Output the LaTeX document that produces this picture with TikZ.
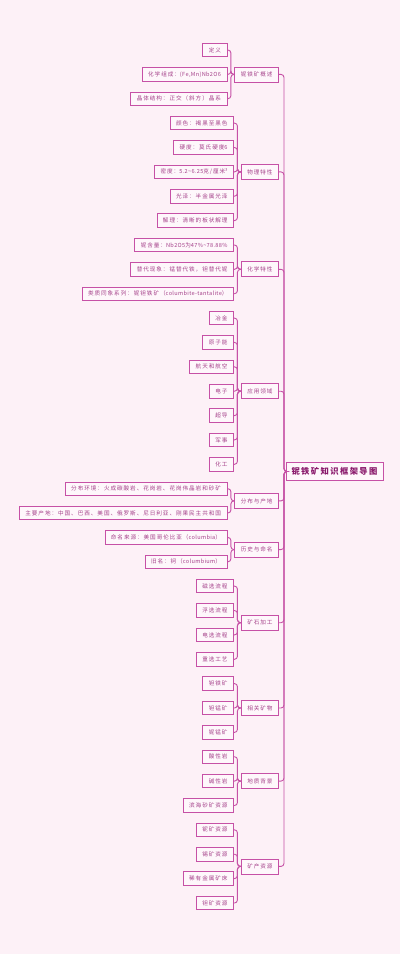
\documentclass[tikz,border=0pt]{standalone}
\usepackage{fontspec}
\setmainfont{Noto Sans CJK SC}[LetterSpace=17]
\newfontfamily\lat{Noto Sans CJK SC}[LetterSpace=6]
\usetikzlibrary{calc}
\definecolor{bg}{HTML}{FDF1F7}
\definecolor{bd}{HTML}{C651A6}
\definecolor{fl}{HTML}{FEF7FB}
\definecolor{tx}{HTML}{A5418A}
\definecolor{rt}{HTML}{8A1A6C}
\tikzset{
 l2/.style={draw=bd, fill=fl, line width=0.8pt, text=tx, font=\fontsize{5.6}{6}\selectfont, inner xsep=6pt, inner ysep=0pt, minimum height=13.5pt, anchor=east},
 l1/.style={l2, minimum height=15pt},
 rootbox/.style={draw=bd, fill=fl, line width=1pt, text=rt, font=\fontsize{8.3}{9}\selectfont\bfseries, minimum width=97pt, minimum height=18pt},
 conn/.style={draw=bd, line width=0.9pt, rounded corners=3pt}
}
\newcommand\mmkid[4]{\path let \p1=(#1.west) in node[l2] (#2) at (\x1-7pt,-#3pt) {#4}; \draw[conn] (#1.west) -- ++(-3.5pt,0) |- (#2.east);}
\begin{document}
\begin{tikzpicture}[x=1pt,y=1pt]
\fill[bg] (0,0) rectangle (400,-954);
\useasboundingbox (0,0) rectangle (400,-954);
\node[rootbox] (root) at (334.5,-471.5) {铌铁矿知识框架导图};
\coordinate (tr) at (284,-471.5);
\node[l1] (A) at (279,-74.4) {铌铁矿概述};
\node[l1] (B) at (279,-171.9) {物理特性};
\node[l1] (C) at (279,-269.3) {化学特性};
\node[l1] (D) at (279,-391.2) {应用领域};
\node[l1] (E) at (279,-500.9) {分布与产地};
\node[l1] (F) at (279,-549.6) {历史与命名};
\node[l1] (G) at (279,-622.7) {矿石加工};
\node[l1] (H) at (279,-708) {相关矿物};
\node[l1] (I) at (279,-781.1) {地质背景};
\node[l1] (J) at (279,-866.4) {矿产资源};
\foreach \n in {A,B,C,D,E,F,G,H,I,J}{\draw[conn] (root.west) -- (tr) |- (\n.east);}
\mmkid{A}{a1}{50}{定义}
\mmkid{A}{a2}{74.4}{化学组成：{\lat (Fe,Mn)Nb2O6}}
\mmkid{A}{a3}{98.7}{晶体结构：正交（斜方）晶系}
\mmkid{B}{b1}{123.1}{颜色：褐黑至黑色}
\mmkid{B}{b2}{147.5}{硬度：莫氏硬度{\lat 6}}
\mmkid{B}{b3}{171.9}{密度：{\lat 5.2\textasciitilde 6.25}克/厘米{\lat ³}}
\mmkid{B}{b4}{196.2}{光泽：半金属光泽}
\mmkid{B}{b5}{220.6}{解理：清晰的板状解理}
\mmkid{C}{c1}{245}{铌含量：{\lat Nb2O5}为{\lat 47\%\textasciitilde 78.88\%}}
\mmkid{C}{c2}{269.3}{替代现象：锰替代铁，钽替代铌}
\mmkid{C}{c3}{293.7}{类质同象系列：铌钽铁矿（{\lat columbite-tantalite}）}
\mmkid{D}{d1}{318.1}{冶金}
\mmkid{D}{d2}{342.4}{原子能}
\mmkid{D}{d3}{366.8}{航天和航空}
\mmkid{D}{d4}{391.2}{电子}
\mmkid{D}{d5}{415.6}{超导}
\mmkid{D}{d6}{439.9}{军事}
\mmkid{D}{d7}{464.3}{化工}
\mmkid{E}{e1}{488.7}{分布环境：火成碳酸岩、花岗岩、花岗伟晶岩和砂矿}
\mmkid{E}{e2}{513}{主要产地：中国、巴西、美国、俄罗斯、尼日利亚、刚果民主共和国}
\mmkid{F}{f1}{537.4}{命名来源：美国哥伦比亚（{\lat columbia}）}
\mmkid{F}{f2}{561.8}{旧名：钶（{\lat columbium}）}
\mmkid{G}{g1}{586.1}{磁选流程}
\mmkid{G}{g2}{610.5}{浮选流程}
\mmkid{G}{g3}{634.9}{电选流程}
\mmkid{G}{g4}{659.3}{重选工艺}
\mmkid{H}{h1}{683.6}{钽铁矿}
\mmkid{H}{h2}{708}{钽锰矿}
\mmkid{H}{h3}{732.4}{铌锰矿}
\mmkid{I}{i1}{756.7}{酸性岩}
\mmkid{I}{i2}{781.1}{碱性岩}
\mmkid{I}{i3}{805.5}{滨海砂矿资源}
\mmkid{J}{j1}{829.8}{铌矿资源}
\mmkid{J}{j2}{854.2}{锡矿资源}
\mmkid{J}{j3}{878.6}{稀有金属矿床}
\mmkid{J}{j4}{903}{钽矿资源}
\end{tikzpicture}
\end{document}
